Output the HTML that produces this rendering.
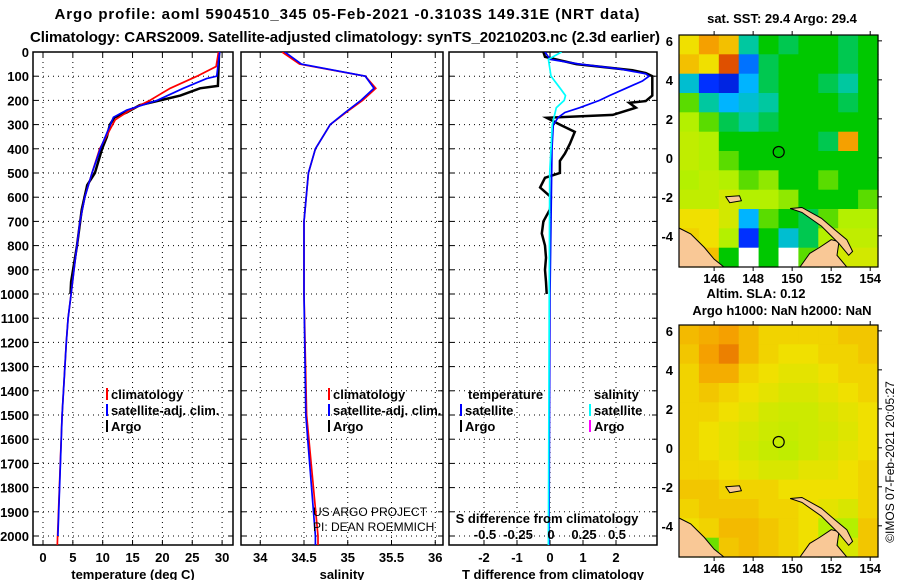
<!DOCTYPE html>
<html><head><meta charset="utf-8"><style>
body{margin:0;background:#fff;width:900px;height:580px;overflow:hidden}
svg{display:block;font-family:"Liberation Sans",sans-serif;font-weight:bold}
</style></head><body>
<svg id="c" width="900" height="580" viewBox="0 0 900 580">
<text x="347" y="19" font-size="15" text-anchor="middle" textLength="585">Argo profile: aoml 5904510_345 05-Feb-2021 -0.3103S 149.31E (NRT data)</text>
<text x="345" y="42" font-size="15" text-anchor="middle" textLength="630">Climatology: CARS2009. Satellite-adjusted climatology: synTS_20210203.nc (2.3d earlier)</text>
<g id="plots"></g>
<text transform="translate(894,462) rotate(-90)" font-size="12" font-weight="normal" text-anchor="middle">©IMOS 07-Feb-2021 20:05:27</text>
</svg>
<script>
// ---- profile data ----
const depthTicks=[0,100,200,300,400,500,600,700,800,900,1000,1100,1200,1300,1400,1500,1600,1700,1800,1900,2000];
const tempTicks=[0,5,10,15,20,25,30];
const salTicks=[34,34.5,35,35.5,36];
const salTickLabels=["34","34.5","35","35.5","36"];
const tdTicks=[-2,-1,0,1,2];
const sdTicks=[-0.5,-0.25,0,0.25,0.5];
const sdTickLabels=["-0.5","-0.25","0","0.25","0.5"];
const climTempDepth=[0,60,100,150,200,240,280,400,500,600,700,800,900,1000,1100,1200,1500,2000,2040];
const climTempVal=[29.4,29.0,25.8,21.3,17.9,14.6,12.1,9.5,8.2,7.0,6.2,5.7,5.2,4.7,4.2,3.9,3.2,2.45,2.4];
const satTempDepth=[0,100,110,150,200,240,270,400,500,600,700,800,900,1000,1100,1200,1500,2000];
const satTempVal=[29.6,29.1,27.4,23.5,19.1,14.0,11.8,9.6,8.2,7.0,6.2,5.7,5.2,4.7,4.2,3.9,3.2,2.5];
const argoTempDepth=[0,140,150,180,200,220,250,270,300,350,400,450,500,550,650,800,950,1000];
const argoTempVal=[29.5,29.3,26.3,23.0,19.6,16.2,14.0,12.0,11.2,10.7,9.9,9.3,8.7,7.4,6.5,5.7,4.7,4.6];
const salDepth=[0,50,100,150,200,250,300,400,500,700,1000,1500,2000,2040];
const climSal=[34.25,34.45,35.2,35.32,35.17,34.98,34.8,34.63,34.55,34.5,34.5,34.53,34.66,34.66];
const satSal=[34.28,34.47,35.2,35.3,35.15,34.97,34.8,34.63,34.55,34.5,34.5,34.52,34.63,34.63];
const tdArgoDepth=[0,20,50,75,87,100,180,203,210,230,260,272,300,330,380,420,450,500,520,560,600,650,700,750,800,850,900,950,1000];
const tdArgoVal=[-0.2,-0.15,0.8,2.5,2.9,3.1,3.1,2.9,2.4,2.6,1.9,-0.1,0.3,0.75,0.6,0.45,0.3,0.3,-0.15,-0.3,0.03,0,-0.2,-0.25,-0.15,-0.12,-0.15,-0.12,-0.1];
const tdSatDepth=[0,30,50,70,90,100,120,150,180,200,230,250,270,300,400,1000,2040];
const tdSatVal=[-0.15,0,0.9,2.1,2.9,3.0,2.8,2.3,1.8,1.5,0.9,0.45,0.25,0.1,0.06,0,-0.03];
const sdSatDepth=[0,30,100,150,180,200,230,300,500,2040];
const sdSatVal=[0.08,-0.02,0,0.07,0.11,0.1,0.04,0.01,-0.01,-0.02];
// ---- map data (rows north->south, -1 = no data) ----
const sstRows=[
[0.7,0.8,0.75,0.4,0.5,0.45,0.5,0.5,0.45,0.5],
[0.75,0.7,0.85,0.25,0.45,0.5,0.5,0.5,0.45,0.5],
[0.35,0.2,0.15,0.3,0.45,0.5,0.5,0.45,0.4,0.5],
[0.55,0.4,0.3,0.35,0.4,0.5,0.5,0.5,0.45,0.5],
[0.6,0.55,0.45,0.4,0.45,0.5,0.5,0.5,0.5,0.5],
[0.62,0.6,0.5,0.5,0.5,0.5,0.5,0.45,0.8,0.5],
[0.62,0.6,0.55,0.5,0.5,0.5,0.5,0.5,0.5,0.5],
[0.6,0.62,0.6,0.55,0.58,0.5,0.5,0.55,0.5,0.5],
[0.62,0.62,0.65,0.6,0.6,0.58,0.5,0.5,0.5,0.55],
[0.7,0.7,0.65,0.3,0.55,0.5,0.45,0.55,0.6,0.6],
[0.72,0.7,0.6,0.2,0.5,0.35,0.45,0.6,0.62,0.62],
[0.72,0.75,0.5,-1,0.5,-1,0.55,0.62,0.65,0.65]];
const slaRows=[
[0.76,0.78,0.8,0.76,0.72,0.72,0.72,0.72,0.74,0.74],
[0.74,0.8,0.82,0.76,0.72,0.7,0.7,0.72,0.72,0.74],
[0.72,0.78,0.78,0.72,0.7,0.68,0.68,0.7,0.72,0.72],
[0.72,0.74,0.72,0.7,0.68,0.66,0.66,0.68,0.7,0.72],
[0.72,0.72,0.7,0.68,0.65,0.64,0.64,0.66,0.68,0.7],
[0.72,0.7,0.68,0.66,0.64,0.63,0.64,0.65,0.67,0.7],
[0.72,0.7,0.68,0.65,0.63,0.62,0.64,0.66,0.68,0.7],
[0.72,0.72,0.7,0.68,0.66,0.66,0.68,0.68,0.7,0.72],
[0.74,0.74,0.72,0.72,0.72,0.7,0.7,0.7,0.7,0.72],
[0.72,0.74,0.74,0.74,0.72,0.72,0.7,0.68,0.66,0.72],
[0.7,0.72,0.76,0.76,0.74,0.72,0.7,0.6,0.6,0.74],
[0.62,0.56,0.74,0.76,0.74,0.72,0.7,0.55,0.66,0.74]];
const lonTicks=[146,148,150,152,154];
const latTicks=[6,4,2,0,-2,-4];

const NS="http://www.w3.org/2000/svg";
const root=document.getElementById('plots');
function mk(tag,at,parent){const e=document.createElementNS(NS,tag);for(const k in at)e.setAttribute(k,at[k]);(parent||root).appendChild(e);return e;}
function txt(x,y,s,size,anchor,parent,w){const t=mk('text',{x:x,y:y,'font-size':size,'text-anchor':anchor||'middle'},parent);if(w)t.setAttribute('font-weight',w);t.textContent=s;return t;}

const TOP=52,BOT=545;
const yD=d=>TOP+d*0.242;
const panels=[
 {name:'temperature',x0:33,x1:233,fx:v=>43+v*5.97,ticks:tempTicks,labels:tempTicks.map(String),title:'temperature (deg C)'},
 {name:'salinity',x0:241,x1:443,fx:v=>304+(v-34.5)*87.5,ticks:salTicks,labels:salTickLabels,title:'salinity'},
 {name:'difference',x0:449,x1:657,fx:v=>550+v*33,ticks:tdTicks,labels:tdTicks.map(String),title:'T difference from climatology'}];
const sx=v=>551+v*132;

panels.forEach((p,i)=>{
 const g=mk('g',{});
 
 
 const cp=mk('clipPath',{id:'cp'+i},g);mk('rect',{x:p.x0,y:TOP,width:p.x1-p.x0,height:BOT-TOP},cp);
 depthTicks.forEach(d=>{
  const l=mk('line',{x1:p.x0,x2:p.x1,y1:yD(d),y2:yD(d),stroke:'#000','stroke-dasharray':'1,4','stroke-width':1},g);
  
  mk('line',{x1:p.x1-5,x2:p.x1,y1:yD(d),y2:yD(d),stroke:'#000'},g);
  mk('line',{x1:p.x0,x2:p.x0+5,y1:yD(d),y2:yD(d),stroke:'#000'},g);
 });
 p.ticks.forEach((t,k)=>{
  const x=p.fx(t);
  const l=mk('line',{x1:x,x2:x,y1:TOP,y2:BOT,stroke:'#000','stroke-dasharray':'1,4'},g);
  
  mk('line',{x1:x,x2:x,y1:TOP,y2:TOP+5,stroke:'#000'},g);
  mk('line',{x1:x,x2:x,y1:BOT-5,y2:BOT,stroke:'#000'},g);
  const tl=txt(x,562,p.labels[k],13,'middle',g);
  
 });
 const at=txt((p.x0+p.x1)/2,579,p.title,13,'middle',g);
 
 mk('rect',{x:p.x0,y:TOP,width:p.x1-p.x0,height:BOT-TOP,fill:'none',stroke:'#000','stroke-width':1.5},g);
 p.g=g;p.clip='url(#cp'+i+')';
});
depthTicks.forEach(d=>{
 const t=txt(29,yD(d)+5,String(d),13,'end');
 
});
function line(p,depths,vals,fx,color,w,name){
 const pts=depths.map((d,k)=>fx(vals[k]).toFixed(1)+','+yD(d).toFixed(1)).join(' ');
 const l=mk('polyline',{points:pts,fill:'none',stroke:color,'stroke-width':w,'clip-path':p.clip},p.g);
 
}
const [P1,P2,P3]=panels;
line(P1,argoTempDepth,argoTempVal,P1.fx,'#000',2.5,'argo-temperature-line');
line(P1,climTempDepth,climTempVal,P1.fx,'#f00',1.7,'climatology-temperature-line');
line(P1,satTempDepth,satTempVal,P1.fx,'#00f',1.7,'satellite-temperature-line');
line(P2,salDepth,climSal,P2.fx,'#f00',1.7,'climatology-salinity-line');
line(P2,salDepth,satSal,P2.fx,'#00f',1.7,'satellite-salinity-line');
line(P3,tdArgoDepth,tdArgoVal,P3.fx,'#000',2.5,'argo-tdiff-line');
line(P3,tdSatDepth,tdSatVal,P3.fx,'#00f',1.7,'satellite-tdiff-line');
line(P3,sdSatDepth,sdSatVal,sx,'#0ff',1.7,'satellite-sdiff-line');

function legend(x,y,color,label,name){
 const g=mk('g',{});
 if(color)mk('rect',{x:x,y:y-11,width:2,height:12,fill:color},g);
 txt(x+5,y,label,13,'start',g);
}
legend(106,399,'#f00','climatology','legend-climatology');
legend(106,415,'#00f','satellite-adj. clim.','legend-satellite-adj');
legend(106,431,'#000','Argo','legend-argo');
legend(328,399,'#f00','climatology','legend-climatology-sal');
legend(328,415,'#00f','satellite-adj. clim.','legend-satellite-adj-sal');
legend(328,431,'#000','Argo','legend-argo-sal');
legend(463,399,null,'temperature','legend-temp-heading');
legend(460,415,'#00f','satellite','legend-t-satellite');
legend(460,431,'#000','Argo','legend-t-argo');
legend(589,399,null,'salinity','legend-sal-heading');
legend(589,415,'#0ff','satellite','legend-s-satellite');
legend(589,431,'#f0f','Argo','legend-s-argo');
let t=txt(313,516,'US ARGO PROJECT',12,'start',null,'normal');
t=txt(313,531,'PI: DEAN ROEMMICH',12,'start',null,'normal');
t=txt(547,523,'S difference from climatology',13,'middle');
sdTicks.forEach((v,k)=>{const e=txt(sx(v),539,sdTickLabels[k],13,'middle');});

// ---- maps ----
const stops=[[0,[0,0,140]],[0.2,[0,48,255]],[0.3,[0,180,255]],[0.4,[0,200,160]],[0.5,[0,200,0]],[0.6,[180,240,0]],[0.7,[240,224,0]],[0.8,[245,160,0]],[0.9,[200,0,0]]];
function cmap(v){if(v<0)return '#fff';for(let i=1;i<stops.length;i++){if(v<=stops[i][0]||i==stops.length-1){const a=stops[i-1],b=stops[i];const f=Math.max(0,Math.min(1,(v-a[0])/(b[0]-a[0])));const c=a[1].map((q,j)=>Math.round(q+(b[1][j]-q)*f));return `rgb(${c})`;}}}
const LON0=144.2,LON1=154.4,LAT0=6.3,LAT1=-5.6;
const land=[
 [[144.2,-3.6],[144.8,-3.9],[145.5,-4.6],[146,-5.2],[146.5,-5.6],[144.2,-5.6]],
 [[150.4,-5.6],[150.9,-4.9],[151.4,-4.6],[152,-4.2],[152.4,-4.3],[152.3,-5.0],[152.8,-5.6]],
 [[149.9,-2.6],[150.5,-2.55],[151.5,-3.1],[152.2,-3.7],[152.8,-4.2],[153.1,-4.8],[152.9,-5.0],[152.4,-4.4],[151.5,-3.5],[150.5,-2.8]],
 [[146.6,-2.0],[147.3,-1.95],[147.4,-2.2],[146.8,-2.3]]];
function drawMap(top,bot,rows,name,label1,label1y,circleLat){
 const L=679,R=878;
 const fx=lon=>L+(lon-LON0)*(R-L)/(LON1-LON0);
 const fy=lat=>top+(LAT0-lat)*(bot-top)/(LAT0-LAT1);
 const g=mk('g',{});
 const nr=rows.length,nc=rows[0].length;
 rows.forEach((row,r)=>row.forEach((v,c)=>{
  const cell=mk('rect',{x:(L+c*(R-L)/nc).toFixed(1),y:(top+r*(bot-top)/nr).toFixed(1),width:((R-L)/nc+0.6).toFixed(1),height:((bot-top)/nr+0.6).toFixed(1),fill:cmap(v)},g);
  
 }));
 land.forEach(poly=>{const p=mk('polygon',{points:poly.map(q=>fx(q[0]).toFixed(1)+','+fy(q[1]).toFixed(1)).join(' '),fill:'#f9c896',stroke:'#000','stroke-width':1},g);});
 const ci=mk('circle',{cx:fx(149.31),cy:fy(circleLat),r:5.5,fill:'none',stroke:'#000','stroke-width':1.2},g);
 
 mk('rect',{x:L,y:top,width:R-L,height:bot-top,fill:'none',stroke:'#000','stroke-width':1.2},g);
 lonTicks.forEach(v=>{mk('line',{x1:fx(v),x2:fx(v),y1:top-4,y2:top,stroke:'#000'},g);mk('line',{x1:fx(v),x2:fx(v),y1:bot,y2:bot+4,stroke:'#000'},g);const e=txt(fx(v),bot+16,String(v),13,'middle',g);});
 latTicks.forEach(v=>{mk('line',{x1:R,x2:R+4,y1:fy(v),y2:fy(v),stroke:'#000'},g);const e=txt(673,fy(v)+5,String(v),13,'end',g);});
 const e=txt(782,label1y,label1,13,'middle',g);
}
drawMap(35,267,sstRows,'sst-map','sat. SST: 29.4 Argo: 29.4',23,0.3);
drawMap(325,557,slaRows,'sla-map','Argo h1000: NaN h2000: NaN',315,0.3);
t=txt(756,298,'Altim. SLA: 0.12',13,'middle');
</script>
</body></html>
